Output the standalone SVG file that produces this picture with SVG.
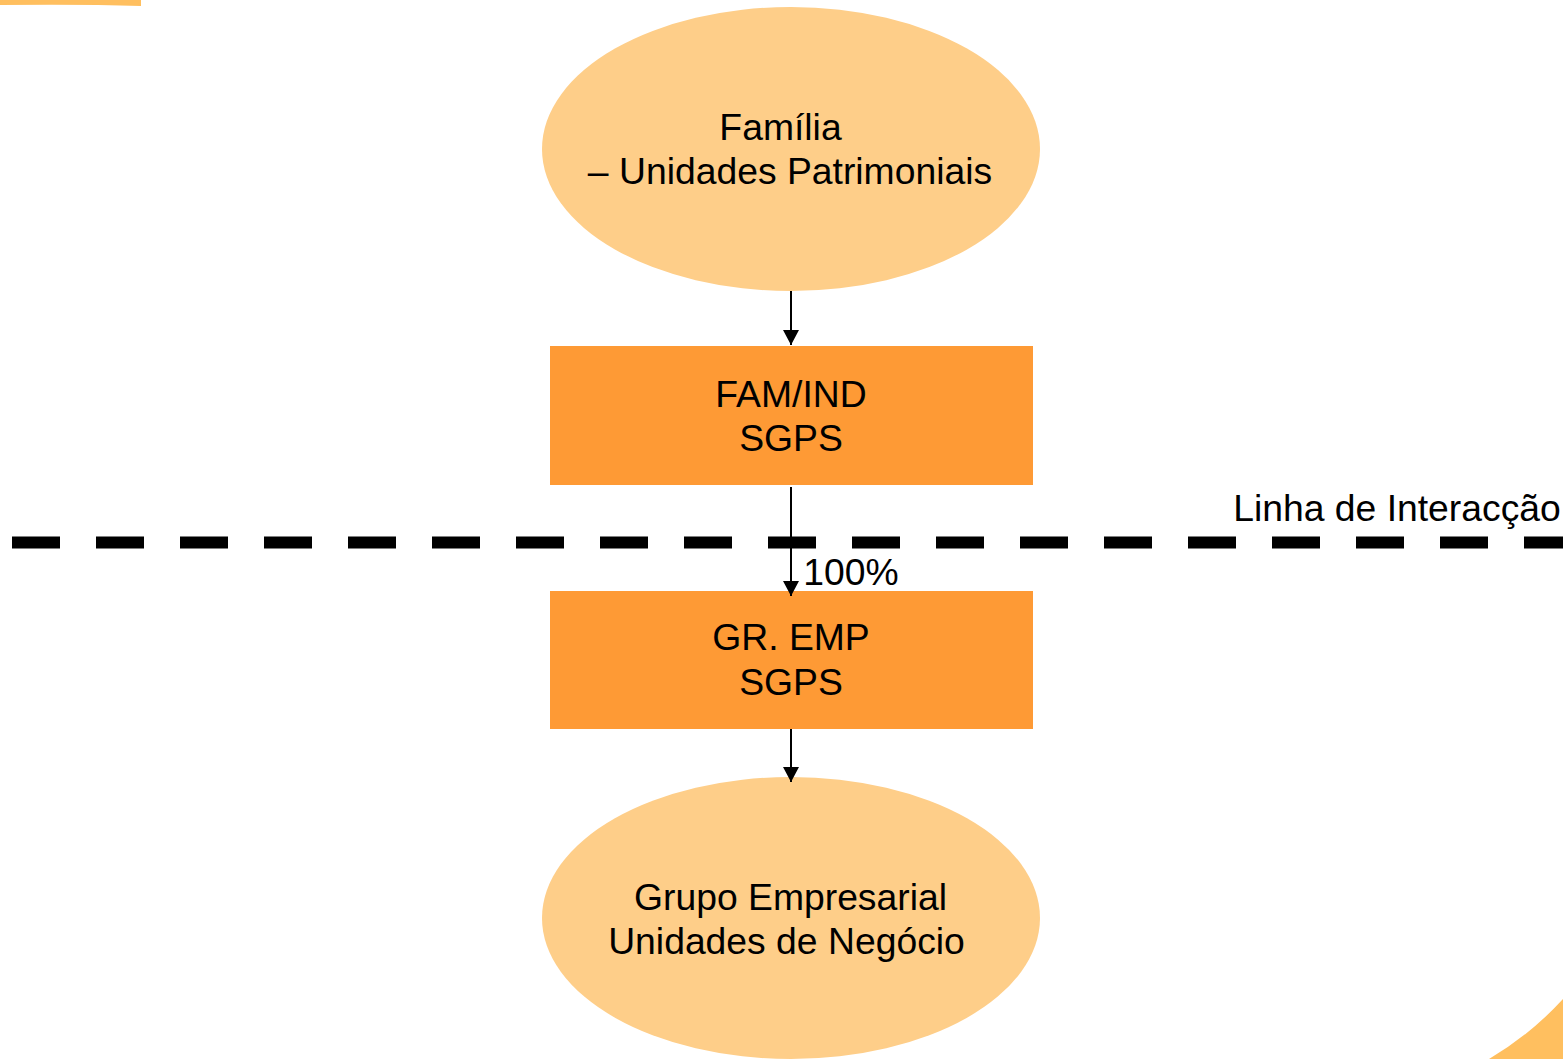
<svg xmlns="http://www.w3.org/2000/svg" width="1563" height="1059" viewBox="0 0 1563 1059">
  <defs>
    <marker id="arrow" markerWidth="15" markerHeight="16" refX="15" refY="8" orient="auto" markerUnits="userSpaceOnUse">
      <path d="M0,0 L15,8 L0,16 Z" fill="#000"/>
    </marker>
    <style>
      .ell { fill: #FECE89; }
      .box { fill: #FE9A35; }
      .deco { fill: #FFBF5F; }
      .lbl { font-family: "Liberation Sans", Arial, sans-serif; font-size: 37.3px; fill: #000; text-anchor: middle; }
      .link { stroke: #000; stroke-width: 2; fill: none; marker-end: url(#arrow); }
    </style>
  </defs>

  <rect width="1563" height="1059" fill="#fff"/>

  <!-- decorative corner shapes -->
  <path class="deco" d="M0,0 L141,0 L141,6 Q80,4 0,5 Z"/>
  <path class="deco" d="M1489,1059 Q1530,1035 1563,999 L1563,1059 Z"/>

  <!-- interaction line -->
  <line x1="12" y1="542.5" x2="1563" y2="542.5" stroke="#000" stroke-width="12" stroke-dasharray="48 36"/>
  <text class="lbl" x="1397" y="521">Linha de Interacção</text>

  <g id="familia">
    <ellipse class="ell" cx="791" cy="149" rx="249" ry="142"/>
    <text class="lbl" x="780.5" y="140">Família</text>
    <text class="lbl" x="790" y="184">– Unidades Patrimoniais</text>
  </g>

  <g id="famind">
    <rect class="box" x="550" y="346" width="483" height="139"/>
    <text class="lbl" x="791" y="407">FAM/IND</text>
    <text class="lbl" x="791" y="451">SGPS</text>
  </g>

  <g id="gremp">
    <rect class="box" x="550" y="591" width="483" height="138"/>
    <text class="lbl" x="791" y="650">GR. EMP</text>
    <text class="lbl" x="791" y="695">SGPS</text>
  </g>

  <g id="grupo">
    <ellipse class="ell" cx="791" cy="918" rx="249" ry="141"/>
    <text class="lbl" x="790.5" y="910">Grupo Empresarial</text>
    <text class="lbl" x="786.5" y="954">Unidades de Negócio</text>
  </g>

  <g id="connectors">
    <line class="link" x1="791" y1="291" x2="791" y2="345"/>
    <line class="link" x1="791" y1="487" x2="791" y2="596"/>
    <line class="link" x1="791" y1="729" x2="791" y2="782"/>
    <text class="lbl" x="851" y="585">100%</text>
  </g>
</svg>
